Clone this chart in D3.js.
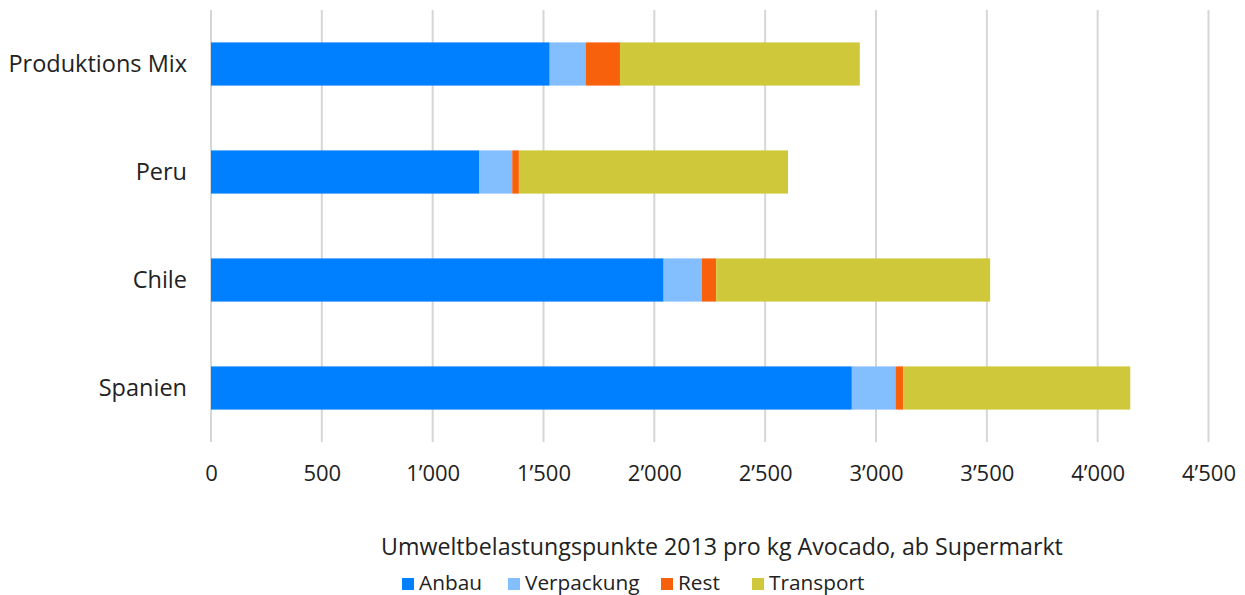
<!DOCTYPE html>
<html>
<head>
<meta charset="utf-8">
<script src="https://cdn.jsdelivr.net/npm/d3@7"></script>
<style>
  html, body { margin: 0; padding: 0; background: #fff; }
  svg { display: block; font-family: "Open Sans", "Noto Sans", sans-serif; }
</style>
</head>
<body>
<svg id="chart" width="1245" height="595"></svg>
<script>
// Environmental impact points per kg avocado, by origin and life-cycle stage
const categories = ["Produktions Mix", "Peru", "Chile", "Spanien"];
const seriesNames = ["Anbau", "Verpackung", "Rest", "Transport"];
const anbau      = [1528, 1209, 2042, 2891];
const verpackung = [162, 150, 172, 197];
const rest       = [155, 30, 65, 35];
const transport  = [1082, 1214, 1236, 1024];
const tickValues = [0, 500, 1000, 1500, 2000, 2500, 3000, 3500, 4000, 4500];
const axisTitle = "Umweltbelastungspunkte 2013 pro kg Avocado, ab Supermarkt";
const colors = ["#0080ff", "#83bfff", "#f8610c", "#cfc83b"];

const rows = categories.map((c, i) => ({
  category: c,
  Anbau: anbau[i],
  Verpackung: verpackung[i],
  Rest: rest[i],
  Transport: transport[i]
}));

const svg = d3.select("#chart");
const plot = { left: 211, right: 1208.5, top: 10, bottom: 442 };

const x = d3.scaleLinear().domain([0, 4500]).range([plot.left, plot.right]);
const y = d3.scaleBand().domain(categories).range([plot.top, plot.bottom]).paddingInner(0.6).paddingOuter(0.3);
const color = d3.scaleOrdinal().domain(seriesNames).range(colors);

// Swiss-style thousands separator with a typographic apostrophe
const fmt = v => d3.format(",")(v).replace(/,/g, "\u2019");

// Vertical gridlines
svg.append("g")
  .selectAll("line")
  .data(tickValues)
  .join("line")
  .attr("x1", d => x(d)).attr("x2", d => x(d))
  .attr("y1", plot.top).attr("y2", plot.bottom)
  .attr("stroke", "#d6d6d6")
  .attr("stroke-width", 2);

// Stacked bars
const stack = d3.stack().keys(seriesNames)(rows);
svg.append("g")
  .selectAll("g")
  .data(stack)
  .join("g")
  .attr("fill", d => color(d.key))
  .selectAll("rect")
  .data(d => d)
  .join("rect")
  .attr("x", d => x(d[0]))
  .attr("width", d => x(d[1]) - x(d[0]))
  .attr("y", d => y(d.data.category))
  .attr("height", y.bandwidth());

// X axis tick labels
const xAxis = d3.axisBottom(x).tickValues(tickValues).tickFormat(fmt).tickSize(0).tickPadding(0);
const gx = svg.append("g").attr("transform", `translate(0,${plot.bottom + 23})`).call(xAxis);
gx.select(".domain").remove();
gx.selectAll("text")
  .attr("font-family", "'Open Sans', sans-serif")
  .attr("font-size", 22)
  .attr("fill", "#222")
  .attr("dy", "0.71em")
  .attr("y", 0);

// Y axis category labels
const yAxis = d3.axisLeft(y).tickSize(0).tickPadding(24);
const gy = svg.append("g").attr("transform", `translate(${plot.left},0)`).call(yAxis);
gy.select(".domain").remove();
gy.selectAll("text")
  .attr("font-family", "'Open Sans', sans-serif")
  .attr("font-size", 23.5)
  .attr("fill", "#222");

// Axis title
svg.append("text")
  .attr("x", 722)
  .attr("y", 549)
  .attr("text-anchor", "middle")
  .attr("dominant-baseline", "middle")
  .attr("font-size", 23.2)
  .attr("fill", "#222")
  .text(axisTitle);

// Legend
const legendX = [402, 508, 661, 752];
const legend = svg.append("g")
  .selectAll("g")
  .data(seriesNames)
  .join("g")
  .attr("transform", (d, i) => `translate(${legendX[i]},584)`);
legend.append("rect")
  .attr("x", 0).attr("y", -6)
  .attr("width", 12).attr("height", 12)
  .attr("fill", d => color(d));
legend.append("text")
  .attr("x", 17)
  .attr("y", 0)
  .attr("dominant-baseline", "middle")
  .attr("font-size", 20.8)
  .attr("fill", "#222")
  .text(d => d);
</script>
</body>
</html>
